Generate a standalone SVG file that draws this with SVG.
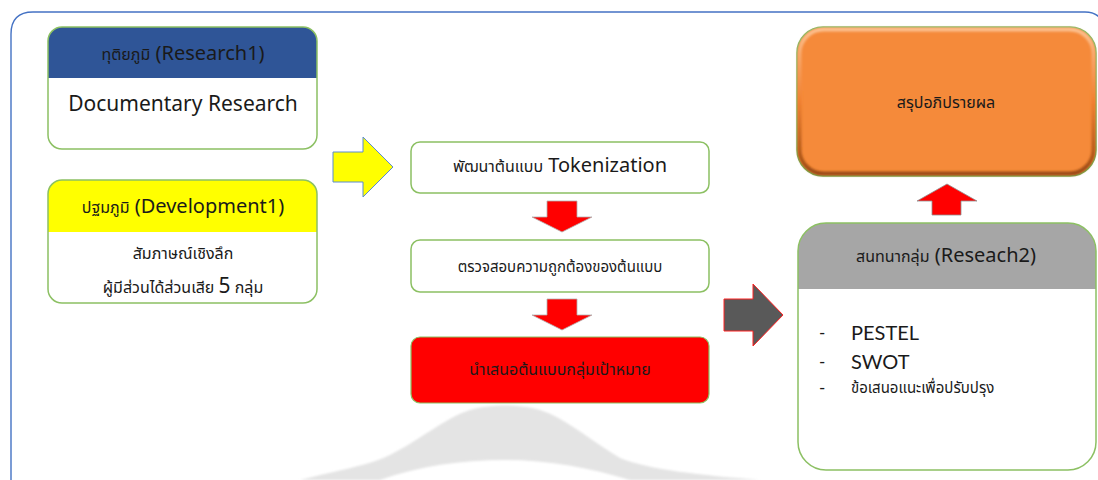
<svg xmlns="http://www.w3.org/2000/svg" width="1098" height="480" viewBox="0 0 1098 480">
  <style>
    .t { font-family: "Noto Sans Thai", "Leelawadee UI", Lato, "Noto Sans", sans-serif; fill: #1a1a1a; text-anchor: middle; }
    .lat { font-family: Lato, "Noto Sans", sans-serif; fill: #1a1a1a; }
    .box { fill: #ffffff; stroke: #8cc063; stroke-width: 1.5; }
    .down { fill: #ff0000; stroke: #b0b0b0; stroke-width: 0.8; }
  </style>
  <defs>
    <linearGradient id="rim" x1="0" y1="0" x2="0" y2="1">
      <stop offset="0" stop-color="#fcc08f"/>
      <stop offset="0.5" stop-color="#f08030"/>
      <stop offset="1" stop-color="#9a4a12"/>
    </linearGradient>
    <filter id="soft" x="-5%" y="-5%" width="110%" height="110%">
      <feGaussianBlur stdDeviation="1.2"/>
    </filter>
    <clipPath id="clipR1"><rect x="48" y="27" width="269" height="122" rx="14"/></clipPath>
    <clipPath id="clipD1"><rect x="48" y="180" width="269" height="123" rx="14"/></clipPath>
    <clipPath id="clipR2"><rect x="798" y="223" width="298" height="247" rx="28"/></clipPath>
  </defs>

  <rect width="1098" height="480" fill="#ffffff"/>

  <!-- faint logo mark behind the lower centre -->
  <path d="M300,480 C340,470 370,465 390,455 C420,440 445,418 470,410 C490,404 520,404 540,410 C565,418 590,440 620,458 C650,470 700,475 760,480 Z
           M380,480 C420,466 460,460 505,460 C550,460 590,468 630,480 Z" fill="#e4e4e4" fill-rule="evenodd" filter="url(#soft)"/>

  <!-- outer frame -->
  <path d="M11,500 L11,34 Q11,12 33,12 L1085,12 Q1095,12 1100,18" fill="none" stroke="#4472c4" stroke-width="1.4"/>

  <g id="connectors">
    <!-- yellow block arrow into the prototype step -->
    <path d="M333,152 L363,152 L363,137 L393,167 L363,197 L363,182 L333,182 Z" fill="#ffff00" stroke="#5b8bd0" stroke-width="1"/>
    <!-- red block arrows down the centre column -->
    <path class="down" d="M547,201 L577,201 L577,217 L592,217 L562,232 L532,217 L547,217 Z"/>
    <path class="down" d="M547,299 L577,299 L577,315 L592,315 L562,330 L532,315 L547,315 Z"/>
    <!-- grey block arrow toward focus group -->
    <path d="M724,299 L753,299 L753,284 L783,315 L753,346 L753,331 L724,331 Z" fill="#595959" stroke="#ff2020" stroke-width="1"/>
    <!-- red block arrow up to conclusion -->
    <path d="M932,215 L961,215 L961,201 L977,201 L947,184 L917,201 L932,201 Z" fill="#ff0000" stroke="#909090" stroke-width="0.8"/>
  </g>

  <g id="research1">
    <rect x="48" y="27" width="269" height="122" rx="14" fill="#ffffff"/>
    <rect x="48" y="27" width="269" height="51" fill="#2f5597" clip-path="url(#clipR1)"/>
    <rect x="48" y="27" width="269" height="122" rx="14" fill="none" stroke="#8cc063" stroke-width="1.5"/>
    <text class="t" x="183" y="60" font-size="20"><tspan font-size="16">ทุติยภูมิ</tspan> (Research1)</text>
    <text class="t" x="183" y="111" font-size="21">Documentary Research</text>
  </g>

  <g id="development1">
    <rect x="48" y="180" width="269" height="123" rx="14" fill="#ffffff"/>
    <rect x="48" y="180" width="269" height="52" fill="#ffff00" clip-path="url(#clipD1)"/>
    <rect x="48" y="180" width="269" height="123" rx="14" fill="none" stroke="#8cc063" stroke-width="1.5"/>
    <text class="t" x="183" y="213" font-size="20"><tspan font-size="16">ปฐมภูมิ</tspan> (Development1)</text>
    <text class="t" x="183" y="259" font-size="16">สัมภาษณ์เชิงลึก</text>
    <text class="t" x="183" y="293" font-size="16">ผู้มีส่วนได้ส่วนเสีย <tspan font-size="21">5</tspan> กลุ่ม</text>
  </g>

  <g id="tokenization">
    <rect class="box" x="411" y="142" width="298" height="51" rx="9"/>
    <text class="t" x="560" y="172" font-size="20"><tspan font-size="16">พัฒนาต้นแบบ</tspan> Tokenization</text>
  </g>

  <g id="verify">
    <rect class="box" x="411" y="240" width="298" height="52" rx="9"/>
    <text class="t" x="560" y="272" font-size="15">ตรวจสอบความถูกต้องของต้นแบบ</text>
  </g>

  <g id="present">
    <rect x="411" y="337" width="298" height="66" rx="9" fill="#ff0000" stroke="#8cc063" stroke-width="1.2"/>
    <text class="t" x="560" y="375" font-size="16">นำเสนอต้นแบบกลุ่มเป้าหมาย</text>
  </g>

  <g id="conclusion">
    <rect x="797" y="27" width="299" height="149" rx="26" fill="#f58a3a" stroke="#7fb356" stroke-width="1.5"/>
    <rect x="799.5" y="29.5" width="294" height="144" rx="24" fill="none" stroke="url(#rim)" stroke-width="4" filter="url(#soft)"/>
    <text class="t" x="946" y="108" font-size="16">สรุปอภิปรายผล</text>
  </g>

  <g id="research2">
    <rect x="798" y="223" width="298" height="247" rx="28" fill="#ffffff"/>
    <rect x="798" y="223" width="298" height="66" fill="#a6a6a6" clip-path="url(#clipR2)"/>
    <rect x="798" y="223" width="298" height="247" rx="28" fill="none" stroke="#8cc063" stroke-width="1.5"/>
    <text class="t" x="946" y="262" font-size="20"><tspan font-size="16">สนทนากลุ่ม</tspan> (Reseach2)</text>
    <text class="lat" x="819" y="339" font-size="17">-</text>
    <text class="lat" x="851" y="340" font-size="20">PESTEL</text>
    <text class="lat" x="819" y="368" font-size="17">-</text>
    <text class="lat" x="851" y="369" font-size="20">SWOT</text>
    <text class="lat" x="819" y="394" font-size="17">-</text>
    <text class="t" x="851" y="393" font-size="15" style="text-anchor:start">ข้อเสนอแนะเพื่อปรับปรุง</text>
  </g>
</svg>
